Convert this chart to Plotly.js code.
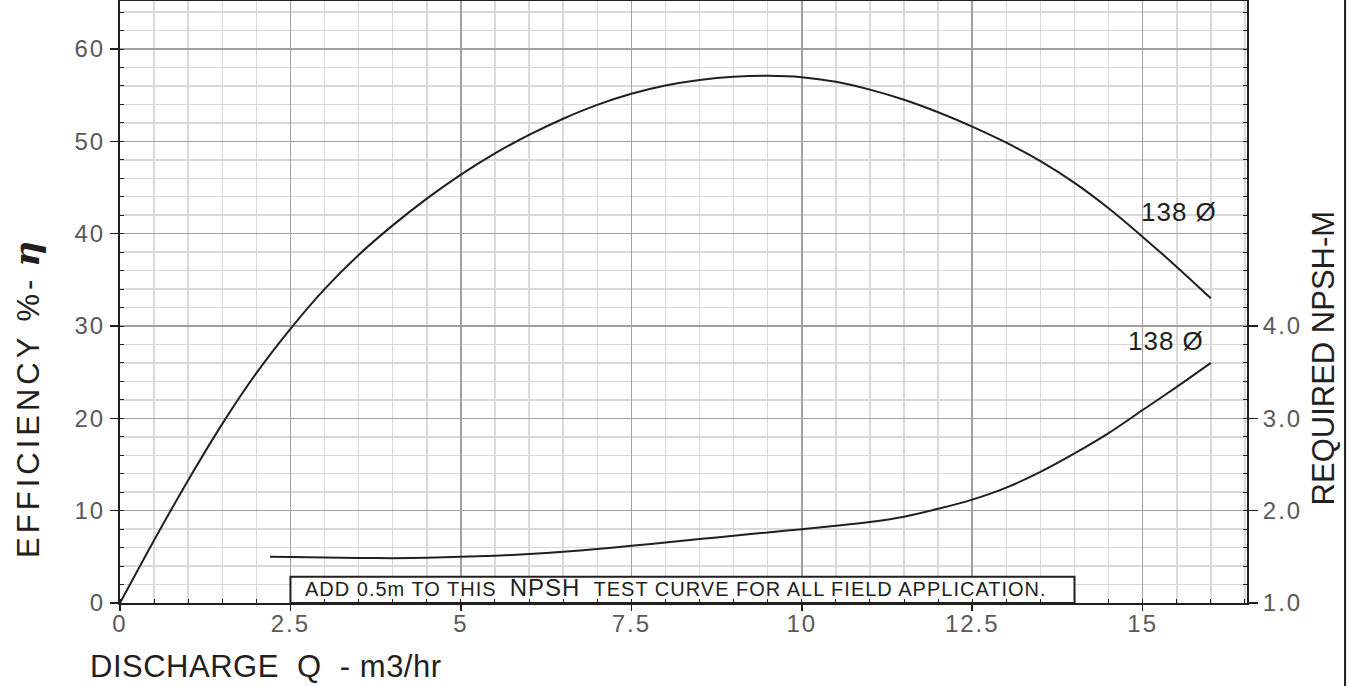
<!DOCTYPE html>
<html>
<head>
<meta charset="utf-8">
<script src="https://cdn.plot.ly/plotly-3.0.1.min.js"></script>
<style>
  html, body { margin: 0; padding: 0; background: #ffffff; }
  #chart { width: 1353px; height: 686px; }
  .xtick text, .ytick text, .y2tick text { letter-spacing: 2px; }
</style>
</head>
<body>
<div id="chart"></div>
<script>
// ---- data ----
const effQ = [0, 0.5, 1, 1.5, 2, 2.5, 3, 3.5, 4, 4.5, 5, 5.5, 6, 6.5, 7, 7.5, 8, 8.5, 9, 9.5, 10, 10.5, 11, 11.5, 12, 12.5, 13, 13.5, 14, 14.5, 15, 15.5, 16];
const effVal = [0, 6.8, 13.3, 19.4, 24.9, 29.7, 34.0, 37.7, 40.9, 43.8, 46.4, 48.7, 50.7, 52.45, 53.95, 55.15, 56.05, 56.65, 57.0, 57.1, 56.95, 56.45, 55.6, 54.5, 53.15, 51.6, 49.85, 47.85, 45.5, 42.75, 39.65, 36.4, 33.0];

const npshQ = [2.2, 2.5, 3, 3.5, 4, 4.5, 5, 5.5, 6, 6.5, 7, 7.5, 8, 8.5, 9, 9.5, 10, 10.5, 11, 11.5, 12, 12.5, 13, 13.5, 14, 14.5, 15, 15.5, 16];
const npshVal = [1.50, 1.497, 1.492, 1.488, 1.486, 1.49, 1.50, 1.512, 1.53, 1.555, 1.585, 1.62, 1.655, 1.692, 1.728, 1.764, 1.80, 1.837, 1.877, 1.935, 2.02, 2.12, 2.25, 2.42, 2.62, 2.84, 3.09, 3.34, 3.60];

const xTickVals = [0, 2.5, 5, 7.5, 10, 12.5, 15];
const xTickText = ['0', '2.5', '5', '7.5', '10', '12.5', '15'];
const yTickVals = [0, 10, 20, 30, 40, 50, 60];
const yTickText = ['0', '10', '20', '30', '40', '50', '60'];
const y2TickVals = [1, 2, 3, 4];
const y2TickText = ['1.0', '2.0', '3.0', '4.0'];

const curveLabel = '<span style="letter-spacing:1px">138 Ø</span>';
const xTitle = '<span style="letter-spacing:0.5px">DISCHARGE\u00a0\u00a0Q\u00a0\u00a0- m3/hr</span>';
const yTitle = '<span style="letter-spacing:4px">EFFICIENCY %-</span>\u00a0<span style="font-family:\'DejaVu Serif\';font-style:italic;font-weight:bold;font-size:36px">η</span>';
const y2Title = 'REQUIRED NPSH-M';
const noteText = '<span style="letter-spacing:1px">ADD 0.5m TO THIS\u00a0\u00a0<span style="font-size:24px">NPSH</span>\u00a0\u00a0TEST CURVE FOR ALL FIELD APPLICATION.</span>';

// ---- styling ----
const INK = '#231f20';
const TICKGRAY = '#58595b';
const MAJOR = '#a0a0a0';
const MINOR = '#d9d9d9';
const FONT = "'Liberation Sans', Arial, Helvetica, sans-serif";

const traces = [
  {
    x: effQ, y: effVal, type: 'scatter', mode: 'lines',
    line: { color: INK, width: 2, shape: 'spline', smoothing: 0.8 },
    xaxis: 'x', yaxis: 'y', hoverinfo: 'skip'
  },
  {
    x: npshQ, y: npshVal, type: 'scatter', mode: 'lines',
    line: { color: INK, width: 2, shape: 'spline', smoothing: 0.8 },
    xaxis: 'x', yaxis: 'y2', hoverinfo: 'skip'
  }
];

const layout = {
  width: 1353, height: 686,
  margin: { l: 120, r: 106, t: 1, b: 83, pad: 0 },
  paper_bgcolor: '#ffffff', plot_bgcolor: '#ffffff',
  showlegend: false,
  font: { family: FONT, color: INK },
  xaxis: {
    range: [0, 16.53], autorange: false,
    tickmode: 'array', tickvals: xTickVals, ticktext: xTickText,
    ticks: 'outside', ticklen: 6, tickwidth: 1.5, tickcolor: INK,
    ticklabelstandoff: -8,
    tickfont: { family: FONT, size: 24, color: TICKGRAY },
    showgrid: true, gridcolor: MAJOR, gridwidth: 1.5,
    minor: { tickmode: 'linear', tick0: 0, dtick: 0.5, showgrid: true, gridcolor: MINOR, gridwidth: 1.5, ticks: 'inside', ticklen: 4, tickcolor: INK, tickwidth: 1 },
    showline: true, linecolor: INK, linewidth: 2, mirror: true,
    zeroline: false, fixedrange: true
  },
  yaxis: {
    range: [0, 65.2], autorange: false,
    tickmode: 'array', tickvals: yTickVals, ticktext: yTickText,
    ticks: 'outside', ticklen: 8, tickwidth: 1.5, tickcolor: INK,
    tickfont: { family: FONT, size: 24, color: TICKGRAY },
    showgrid: true, gridcolor: MAJOR, gridwidth: 1.5,
    minor: { tickmode: 'linear', tick0: 0, dtick: 2, showgrid: true, gridcolor: MINOR, gridwidth: 1.5, ticks: 'inside', ticklen: 4, tickcolor: INK, tickwidth: 1 },
    showline: true, linecolor: INK, linewidth: 2,
    zeroline: false, fixedrange: true
  },
  yaxis2: {
    overlaying: 'y', side: 'right',
    range: [1, 7.52], autorange: false,
    tickmode: 'array', tickvals: y2TickVals, ticktext: y2TickText,
    ticks: 'outside', ticklen: 9, tickwidth: 1.5, tickcolor: INK,
    tickfont: { family: FONT, size: 24, color: TICKGRAY },
    showgrid: false,
    minor: { tickmode: 'linear', tick0: 1, dtick: 0.2, showgrid: false, ticks: 'inside', ticklen: 4, tickcolor: INK, tickwidth: 1 },
    showline: true, linecolor: INK, linewidth: 2,
    zeroline: false, fixedrange: true
  },
  shapes: [
    { type: 'rect', xref: 'x', yref: 'y', x0: 2.5, x1: 14, y0: 0, y1: 2.85,
      line: { color: INK, width: 2 }, fillcolor: '#ffffff', layer: 'between' },
    { type: 'line', xref: 'paper', yref: 'paper', x0: 1.087, x1: 1.087, y0: -0.14, y1: 1.01,
      line: { color: INK, width: 2 } }
  ],
  annotations: [
    { text: noteText, xref: 'x', yref: 'y', x: 2.69, y: 1.65, xanchor: 'left', yanchor: 'middle',
      showarrow: false, font: { family: FONT, size: 20, color: INK } },
    { text: curveLabel, xref: 'x', yref: 'y', x: 15.53, y: 42.3, xanchor: 'center', yanchor: 'middle',
      showarrow: false, font: { family: FONT, size: 26, color: INK } },
    { text: curveLabel, xref: 'x', yref: 'y', x: 15.34, y: 28.4, xanchor: 'center', yanchor: 'middle',
      showarrow: false, font: { family: FONT, size: 26, color: INK } },
    { text: xTitle, xref: 'paper', yref: 'paper', x: -0.0284, y: -0.1375, xanchor: 'left', yanchor: 'bottom',
      showarrow: false, font: { family: FONT, size: 31, color: INK } },
    { text: yTitle, xref: 'paper', yref: 'y', x: -0.0834, y: 22.0, xanchor: 'center', yanchor: 'middle',
      textangle: -90, showarrow: false, font: { family: FONT, size: 31, color: INK } },
    { text: y2Title, xref: 'paper', yref: 'y2', x: 1.0675, y: 3.65, xanchor: 'center', yanchor: 'middle',
      textangle: -90, showarrow: false, font: { family: FONT, size: 31, color: INK } }
  ]
};

Plotly.newPlot('chart', traces, layout, { staticPlot: true, displayModeBar: false });
</script>
</body>
</html>
